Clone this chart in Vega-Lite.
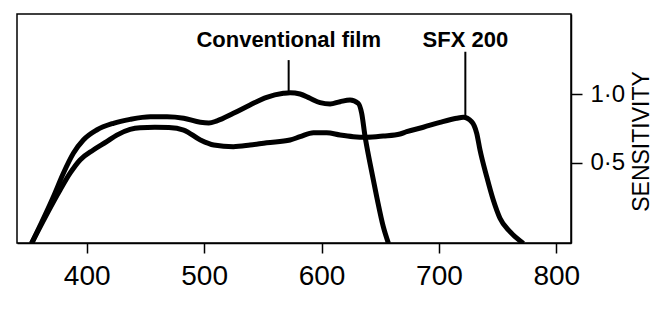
{
  "$schema": "https://vega.github.io/schema/vega-lite/v6.json",
  "width": 554,
  "height": 229,
  "autosize": {"type": "none"},
  "padding": {"left": 17, "top": 14, "right": 95, "bottom": 66},
  "background": "white",
  "config": {
    "view": {"stroke": "black", "strokeWidth": 1.5},
    "font": "Liberation Sans"
  },
  "datasets": {
    "curves": [
      {"series": "Conventional film", "nm": 353, "s": -0.09},
      {"series": "Conventional film", "nm": 371.6, "s": 0.251},
      {"series": "Conventional film", "nm": 380.1, "s": 0.423},
      {"series": "Conventional film", "nm": 388.6, "s": 0.569},
      {"series": "Conventional film", "nm": 397.1, "s": 0.666},
      {"series": "Conventional film", "nm": 408.5, "s": 0.739},
      {"series": "Conventional film", "nm": 422.7, "s": 0.788},
      {"series": "Conventional film", "nm": 436.9, "s": 0.817},
      {"series": "Conventional film", "nm": 454.2, "s": 0.836},
      {"series": "Conventional film", "nm": 468.4, "s": 0.836},
      {"series": "Conventional film", "nm": 482.6, "s": 0.825},
      {"series": "Conventional film", "nm": 496.8, "s": 0.795},
      {"series": "Conventional film", "nm": 504, "s": 0.79},
      {"series": "Conventional film", "nm": 511, "s": 0.806},
      {"series": "Conventional film", "nm": 524.9, "s": 0.861},
      {"series": "Conventional film", "nm": 539.1, "s": 0.922},
      {"series": "Conventional film", "nm": 553.3, "s": 0.978},
      {"series": "Conventional film", "nm": 567.5, "s": 1.007},
      {"series": "Conventional film", "nm": 573.2, "s": 1.012},
      {"series": "Conventional film", "nm": 581.7, "s": 1.002},
      {"series": "Conventional film", "nm": 590.2, "s": 0.971},
      {"series": "Conventional film", "nm": 598.8, "s": 0.939},
      {"series": "Conventional film", "nm": 607.3, "s": 0.929},
      {"series": "Conventional film", "nm": 615.8, "s": 0.946},
      {"series": "Conventional film", "nm": 624.3, "s": 0.958},
      {"series": "Conventional film", "nm": 631.3, "s": 0.934},
      {"series": "Conventional film", "nm": 634.2, "s": 0.861},
      {"series": "Conventional film", "nm": 637.1, "s": 0.69},
      {"series": "Conventional film", "nm": 641.3, "s": 0.496},
      {"series": "Conventional film", "nm": 647, "s": 0.251},
      {"series": "Conventional film", "nm": 652.6, "s": 0.032},
      {"series": "Conventional film", "nm": 657, "s": -0.09},
      {"series": "SFX 200", "nm": 353, "s": -0.09},
      {"series": "SFX 200", "nm": 377.3, "s": 0.3},
      {"series": "SFX 200", "nm": 385.8, "s": 0.423},
      {"series": "SFX 200", "nm": 394.3, "s": 0.52},
      {"series": "SFX 200", "nm": 405.6, "s": 0.593},
      {"series": "SFX 200", "nm": 417, "s": 0.654},
      {"series": "SFX 200", "nm": 425.6, "s": 0.702},
      {"series": "SFX 200", "nm": 436.9, "s": 0.744},
      {"series": "SFX 200", "nm": 445.4, "s": 0.756},
      {"series": "SFX 200", "nm": 458, "s": 0.759},
      {"series": "SFX 200", "nm": 470, "s": 0.757},
      {"series": "SFX 200", "nm": 482.6, "s": 0.739},
      {"series": "SFX 200", "nm": 496.8, "s": 0.666},
      {"series": "SFX 200", "nm": 508.2, "s": 0.629},
      {"series": "SFX 200", "nm": 524.9, "s": 0.617},
      {"series": "SFX 200", "nm": 539.1, "s": 0.629},
      {"series": "SFX 200", "nm": 553.3, "s": 0.646},
      {"series": "SFX 200", "nm": 573.2, "s": 0.666},
      {"series": "SFX 200", "nm": 581.7, "s": 0.69},
      {"series": "SFX 200", "nm": 593.1, "s": 0.719},
      {"series": "SFX 200", "nm": 604.4, "s": 0.719},
      {"series": "SFX 200", "nm": 615.8, "s": 0.702},
      {"series": "SFX 200", "nm": 627.1, "s": 0.69},
      {"series": "SFX 200", "nm": 638.5, "s": 0.686},
      {"series": "SFX 200", "nm": 652.6, "s": 0.695},
      {"series": "SFX 200", "nm": 666.9, "s": 0.71},
      {"series": "SFX 200", "nm": 672.6, "s": 0.727},
      {"series": "SFX 200", "nm": 686.7, "s": 0.759},
      {"series": "SFX 200", "nm": 700.9, "s": 0.795},
      {"series": "SFX 200", "nm": 715.1, "s": 0.825},
      {"series": "SFX 200", "nm": 720.8, "s": 0.832},
      {"series": "SFX 200", "nm": 727.9, "s": 0.8},
      {"series": "SFX 200", "nm": 732.2, "s": 0.715},
      {"series": "SFX 200", "nm": 735, "s": 0.593},
      {"series": "SFX 200", "nm": 740.7, "s": 0.398},
      {"series": "SFX 200", "nm": 746.3, "s": 0.227},
      {"series": "SFX 200", "nm": 752, "s": 0.094},
      {"series": "SFX 200", "nm": 760.5, "s": -0.004},
      {"series": "SFX 200", "nm": 772, "s": -0.09}
    ],
    "labels": [
      {"label": "Conventional film", "nm": 572, "ytext": 1.346, "ytop": 1.25, "ybot": 1.02},
      {"label": "SFX 200", "nm": 722.5, "ytext": 1.346, "ytop": 1.311, "ybot": 0.84}
    ]
  },
  "layer": [
    {
      "data": {"name": "curves"},
      "mark": {"type": "line", "color": "black", "strokeWidth": 5, "interpolate": "monotone", "clip": true},
      "encoding": {
        "x": {
          "field": "nm", "type": "quantitative",
          "scale": {"domain": [340.6, 812.5], "nice": false, "zero": false},
          "axis": {
            "values": [400, 500, 600, 700, 800],
            "grid": false, "title": null,
            "domainColor": "black", "domainWidth": 1.5,
            "tickColor": "black", "tickWidth": 1.5, "tickSize": 10,
            "labelFont": "Liberation Sans", "labelFontSize": 28, "labelColor": "black",
            "labelPadding": 9, "labelFlush": false
          }
        },
        "y": {
          "field": "s", "type": "quantitative",
          "scale": {"domain": [-0.087, 1.587], "nice": false, "zero": false},
          "axis": {
            "orient": "right",
            "values": [0.5, 1.0],
            "grid": false,
            "title": "SENSITIVITY",
            "titleAngle": 270,
            "titleX": 70, "titleY": 127,
            "titleAlign": "center", "titleBaseline": "middle",
            "titleFont": "Liberation Sans", "titleFontSize": 23, "titleFontWeight": "normal", "titleColor": "black",
            "domainColor": "black", "domainWidth": 1.5,
            "tickColor": "black", "tickWidth": 1.5, "tickSize": 11,
            "labelExpr": "replace(format(datum.value, '.1f'), '.', '·')",
            "labelFont": "Liberation Sans", "labelFontSize": 24, "labelColor": "black",
            "labelPadding": 8, "labelFlush": false
          }
        },
        "detail": {"field": "series"}
      }
    },
    {
      "data": {"name": "labels"},
      "mark": {"type": "rule", "color": "black", "strokeWidth": 2},
      "encoding": {
        "x": {"field": "nm", "type": "quantitative"},
        "y": {"field": "ytop", "type": "quantitative"},
        "y2": {"field": "ybot"}
      }
    },
    {
      "data": {"name": "labels"},
      "mark": {"type": "text", "color": "black", "font": "Liberation Sans", "fontSize": 22, "fontWeight": "bold", "align": "center", "baseline": "alphabetic"},
      "encoding": {
        "x": {"field": "nm", "type": "quantitative"},
        "y": {"field": "ytext", "type": "quantitative"},
        "text": {"field": "label"}
      }
    }
  ]
}
